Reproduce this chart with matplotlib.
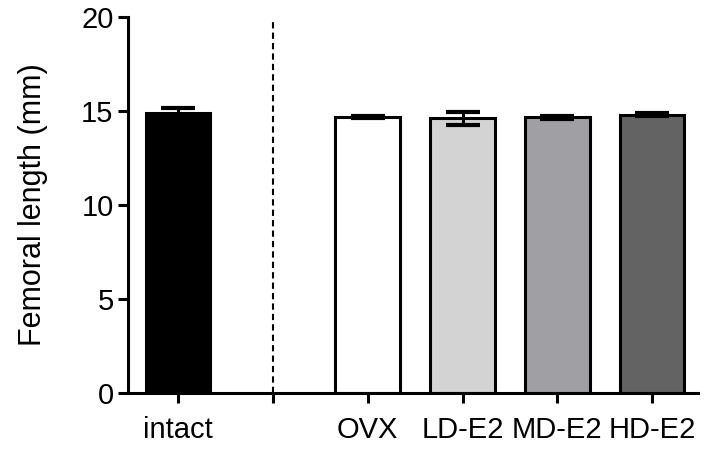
import numpy as np
import matplotlib
matplotlib.use('Agg')
import matplotlib.pyplot as plt

plt.rcParams['font.family'] = ['Liberation Sans', 'DejaVu Sans']

groups = ['intact', 'OVX', 'LD-E2', 'MD-E2', 'HD-E2']
positions = [0, 2, 3, 4, 5]
means = [14.9, 14.68, 14.62, 14.66, 14.8]
errors = [0.25, 0.04, 0.35, 0.09, 0.09]
colors = ['black', 'white', '#d3d3d3', '#a0a0a4', '#636363']

fig = plt.figure(figsize=(7.16, 4.5), dpi=100)
ax = fig.add_axes([0.179, 0.127, 0.796, 0.835])

ax.bar(positions, means, width=0.68, color=colors, edgecolor='black',
       linewidth=2.2, zorder=2)
ax.errorbar(positions, means, yerr=errors, fmt='none', ecolor='black',
            elinewidth=2.2, capsize=12, capthick=3, zorder=3)

ax.axvline(1, ymin=0, ymax=0.99, color='black', linestyle=(0, (3, 2)),
           linewidth=1.5, zorder=1)

ax.set_xlim(-0.527, 5.485)
ax.set_ylim(0, 20)
ax.set_yticks([0, 5, 10, 15, 20])
ax.set_xticks([0, 1, 2, 3, 4, 5])
ax.set_xticklabels(['intact', '', 'OVX', 'LD-E2', 'MD-E2', 'HD-E2'])
ax.set_ylabel('Femoral length (mm)', fontsize=22, labelpad=24)

for s in ['top', 'right']:
    ax.spines[s].set_visible(False)
for s in ['left', 'bottom']:
    ax.spines[s].set_linewidth(2.2)
ax.tick_params(axis='both', width=2.2, length=7, labelsize=21)
ax.tick_params(axis='x', pad=10)

fig.savefig('out.png', dpi=100)
